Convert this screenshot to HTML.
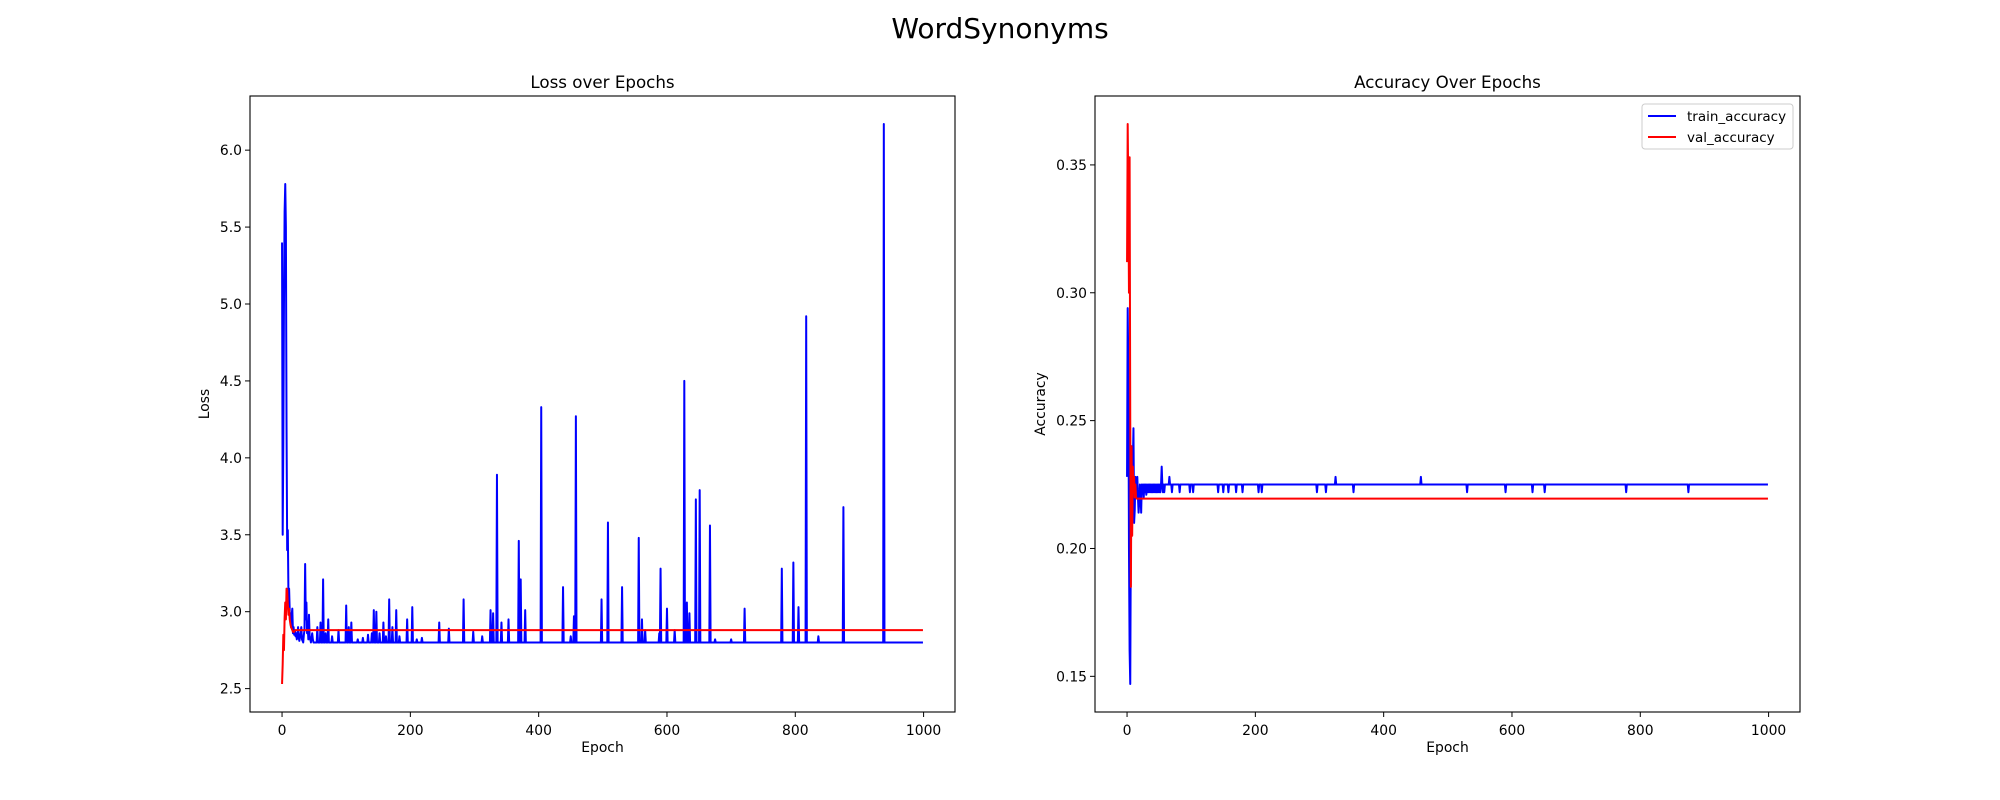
<!DOCTYPE html>
<html><head><meta charset="utf-8"><style>
body{margin:0;background:#fff}
svg{display:block;font-family:"DejaVu Sans","Liberation Sans",sans-serif}
</style></head><body>
<svg id="fig" width="2000" height="800" viewBox="0 0 2000 800" xmlns="http://www.w3.org/2000/svg">
<rect width="2000" height="800" fill="#fff"/>
<text x="1000" y="38" font-size="28" text-anchor="middle">WordSynonyms</text>
<g id="g1"></g><g id="g2"></g>
</svg>
<script>
// Loss data
const lossEarly = [5.4,3.5,4.1,5.0,5.6,5.78,5.5,4.2,3.4,3.53,3.1,3.15,3.0,2.95,2.9,2.98,3.02,2.86,2.9,2.85,2.88,2.84,2.86,2.82,2.85,2.9,2.83,2.81,2.84,2.86,2.9,2.82,2.81,2.8,2.85,2.88,3.31,2.95,3.06,2.86,2.9,2.82,2.98,2.84,2.82,2.8,2.83,2.86,2.82,2.8];
const lossSpikes = [[55,2.9],[60,2.93],[64,3.21],[68,2.86],[72,2.95],[78,2.84],[88,2.88],[100,3.04],[104,2.9],[108,2.93],[118,2.82],[126,2.83],[134,2.85],[140,2.86],[143,3.01],[147,3.0],[152,2.86],[158,2.93],[162,2.84],[167,3.08],[172,2.9],[178,3.01],[183,2.84],[195,2.95],[203,3.03],[210,2.82],[218,2.83],[245,2.93],[260,2.89],[283,3.08],[298,2.87],[312,2.84],[325,3.01],[329,2.99],[335,3.89],[342,2.93],[353,2.95],[369,3.46],[372,3.21],[379,3.01],[404,4.33],[438,3.16],[450,2.84],[455,2.97],[458,4.27],[498,3.08],[508,3.58],[530,3.16],[556,3.48],[561,2.95],[566,2.88],[588,2.86],[590,3.28],[600,3.02],[612,2.88],[627,4.5],[631,3.06],[635,2.99],[645,3.73],[651,3.79],[667,3.56],[675,2.82],[700,2.82],[721,3.02],[779,3.28],[797,3.32],[805,3.03],[817,4.92],[836,2.84],[875,3.68],[938,6.17]];
const lossBase = 2.80;
const valLossEarly = [2.53,2.66,2.85,2.75,2.96,3.06,2.95,3.15,3.14,3.05,2.98,3.02,2.95,2.92,2.9,2.89,2.88,2.87,2.87,2.87];
const valLossBase = 2.88;
// Accuracy data
const accEarly = [0.228,0.294,0.27,0.20,0.16,0.147,0.21,0.24,0.22,0.233,0.247,0.21,0.215,0.228,0.22,0.225,0.228,0.22,0.214,0.218,0.225,0.222,0.214,0.225,0.222,0.225,0.22,0.225,0.222,0.225,0.221,0.225,0.222,0.225,0.222,0.225,0.222,0.225,0.222,0.225,0.222,0.225,0.222,0.225,0.222,0.225,0.222,0.225,0.222,0.225,0.222,0.225,0.222,0.225,0.232,0.225,0.222,0.225,0.222,0.225];
const accDips = [[66,0.228],[70,0.222],[82,0.222],[98,0.222],[103,0.222],[142,0.222],[150,0.222],[158,0.222],[170,0.222],[180,0.222],[205,0.222],[210,0.222],[296,0.222],[310,0.222],[325,0.228],[353,0.222],[458,0.228],[530,0.222],[590,0.222],[632,0.222],[651,0.222],[778,0.222],[875,0.222]];
const accBase = 0.225;
const valAccEarly = [0.312,0.366,0.34,0.30,0.353,0.25,0.185,0.24,0.205,0.232,0.222,0.228,0.22,0.225,0.22];
const valAccBase = 0.2195;
const xTicks = [0,200,400,600,800,1000];
const lossTicks = [2.5,3.0,3.5,4.0,4.5,5.0,5.5,6.0];
const accTicks = [0.15,0.20,0.25,0.30,0.35];
const N = 1000;

function build(early, spikes, base){
  const a=[];for(let i=0;i<N;i++)a.push(i<early.length?early[i]:base);
  spikes.forEach(s=>{a[s[0]]=s[1];});return a;
}
const lossTrain=build(lossEarly,lossSpikes,lossBase);
const lossVal=build(valLossEarly,[],valLossBase);
const accTrain=build(accEarly,accDips,accBase);
const accVal=build(valAccEarly,[],valAccBase);

const NS="http://www.w3.org/2000/svg";
function el(t,at,p){const e=document.createElementNS(NS,t);for(const k in at)e.setAttribute(k,at[k]);p.appendChild(e);return e;}

function panel(g,x0,title,ylab,yt,fmt,series,legend,ylOff){
  const L=x0,R=x0+705,T=96,B=712;
  const all=series.flatMap(s=>s.d);const mn=Math.min(...all),mx=Math.max(...all),pad=(mx-mn)*0.05;
  const y0=mn-pad,y1=mx+pad,xa=-49.95,xb=1048.95;
  const X=v=>L+(v-xa)/(xb-xa)*(R-L), Y=v=>B-(v-y0)/(y1-y0)*(B-T);
  const t=el('text',{x:(L+R)/2,y:88,'font-size':16.7,'text-anchor':'middle'},g);t.textContent=title;
  
  
  series.forEach(s=>{
    const p=el('polyline',{points:s.d.map((v,i)=>X(i).toFixed(2)+','+Y(v).toFixed(2)).join(' '),fill:'none',stroke:s.c,'stroke-width':2,'stroke-linejoin':'round'},g);
    
    
  });
  el('rect',{x:L,y:T,width:R-L,height:B-T,fill:'none',stroke:'#000','stroke-width':1.1},g);
  xTicks.forEach(v=>{const x=X(v);el('line',{x1:x,x2:x,y1:B,y2:B+5,stroke:'#000'},g);
    const tx=el('text',{x:x,y:B+23,'font-size':13.9,'text-anchor':'middle'},g);tx.textContent=v;
    
    });
  yt.forEach(v=>{const y=Y(v);el('line',{x1:L-5,x2:L,y1:y,y2:y,stroke:'#000'},g);
    const tx=el('text',{x:L-8,y:y+5,'font-size':13.9,'text-anchor':'end'},g);tx.textContent=fmt(v);
    
    });
  const xl=el('text',{x:(L+R)/2,y:752,'font-size':13.9,'text-anchor':'middle'},g);xl.textContent='Epoch';
  
  
  const yx=L-ylOff;
  const yl=el('text',{x:yx,y:(T+B)/2,'font-size':13.9,'text-anchor':'middle',transform:`rotate(-90 ${yx} ${(T+B)/2})`},g);yl.textContent=ylab;
  
  
  if(legend){
    const lg=el('g',{},g);
    
    
    el('rect',{x:1642,y:104,width:151,height:45,rx:3,fill:'#fff',stroke:'#ccc'},lg);
    series.forEach((s,i)=>{const yy=116+i*21;
      el('line',{x1:1648,x2:1676,y1:yy,y2:yy,stroke:s.c,'stroke-width':2},lg);
      const tx=el('text',{x:1687,y:yy+5,'font-size':13.5},lg);tx.textContent=s.n;
      
      });
  }
}
panel(document.getElementById('g1'),250,'Loss over Epochs','Loss',lossTicks,v=>v.toFixed(1),
  [{d:lossTrain,c:'#0000ff',n:'train_loss'},{d:lossVal,c:'#ff0000',n:'val_loss'}],false,41);
panel(document.getElementById('g2'),1095,'Accuracy Over Epochs','Accuracy',accTicks,v=>v.toFixed(2),
  [{d:accTrain,c:'#0000ff',n:'train_accuracy'},{d:accVal,c:'#ff0000',n:'val_accuracy'}],true,50);
</script>
</body></html>
